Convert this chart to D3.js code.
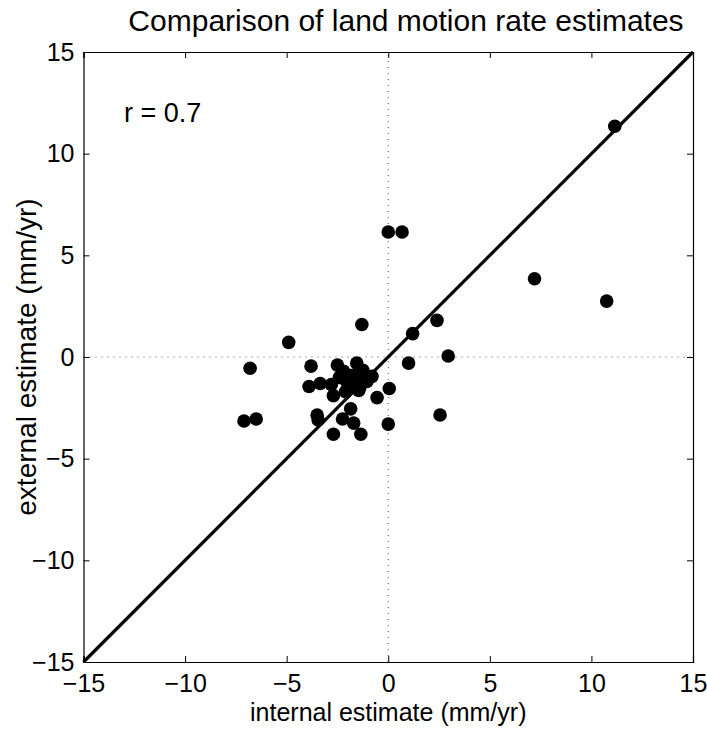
<!DOCTYPE html>
<html>
<head>
<meta charset="utf-8">
<script src="https://cdn.jsdelivr.net/npm/d3@7"></script>
<style>
  body { margin: 0; background: #fff; }
  text { font-family: "Liberation Sans", Arial, sans-serif; fill: #000; }
</style>
</head>
<body>
<div id="chart"></div>
<script>
// internal vs external land motion rate estimates (mm/yr)
let internalRate = [11.15, 7.2, 10.75, 0.0, 0.68, -1.3, -4.9, 2.4, 1.2, 2.95, 1.0, -6.8,
  -7.1, -6.5, 2.55, 0.0, -2.7, -1.35, -1.7, -2.25, -3.45, -3.5, -1.85, -0.55, 0.05, -2.7,
  -3.8, -2.5, -1.55, -2.2, -1.25, -0.8, -3.9, -3.35, -2.8, -2.05, -1.65, -1.9, -1.4,
  -1.05, -2.1, -1.45, -1.75, -1.3, -2.4];
let externalRate = [11.35, 3.85, 2.75, 6.15, 6.15, 1.6, 0.72, 1.8, 1.15, 0.05, -0.3, -0.55,
  -3.15, -3.05, -2.85, -3.3, -3.8, -3.8, -3.25, -3.05, -3.1, -2.85, -2.55, -2.0, -1.55, -1.9,
  -0.45, -0.4, -0.3, -0.7, -0.65, -0.95, -1.45, -1.3, -1.35, -1.2, -1.05, -1.55, -1.5,
  -1.2, -1.7, -1.65, -0.9, -1.0, -1.0];
let ticks = [-15, -10, -5, 0, 5, 10, 15];
let rText = "r = 0.7";

let width = 707, height = 729;
let margin = {top: 52, right: 14, bottom: 67, left: 83.5};
let tickLen = 6;

let svg = d3.select("#chart").append("svg")
  .attr("width", width)
  .attr("height", height);

let x = d3.scaleLinear().domain([-15, 15]).range([margin.left, width - margin.right]);
let y = d3.scaleLinear().domain([-15, 15]).range([height - margin.bottom, margin.top]);

let points = internalRate.map((v, i) => ({x: v, y: externalRate[i]}));

// dotted zero lines
svg.append("line")
  .attr("x1", x(-15)).attr("x2", x(15))
  .attr("y1", y(0)).attr("y2", y(0))
  .attr("stroke", "#555").attr("stroke-width", 1)
  .attr("stroke-dasharray", "1,5");
svg.append("line")
  .attr("x1", x(0)).attr("x2", x(0))
  .attr("y1", y(-15)).attr("y2", y(15))
  .attr("stroke", "#555").attr("stroke-width", 1)
  .attr("stroke-dasharray", "1,5");

// 1:1 line
svg.append("line")
  .attr("x1", x(-15)).attr("y1", y(-15))
  .attr("x2", x(15)).attr("y2", y(15))
  .attr("stroke", "#000").attr("stroke-width", 3.2);

// points
svg.append("g").selectAll("circle")
  .data(points)
  .enter()
  .append("circle")
  .attr("cx", d => x(d.x))
  .attr("cy", d => y(d.y))
  .attr("r", 6.8)
  .attr("fill", "#000");

// axes: ticks inward on all four sides, labels on bottom and left
let fmt = d => d < 0 ? "\u2212" + Math.abs(d) : "" + d;

let axBottom = svg.append("g")
  .attr("transform", "translate(0," + y(-15) + ")")
  .call(d3.axisBottom(x).tickValues(ticks).tickSize(-tickLen).tickPadding(12).tickFormat(fmt));
let axTop = svg.append("g")
  .attr("transform", "translate(0," + y(15) + ")")
  .call(d3.axisTop(x).tickValues(ticks).tickSize(-tickLen).tickFormat(""));
let axLeft = svg.append("g")
  .attr("transform", "translate(" + x(-15) + ",0)")
  .call(d3.axisLeft(y).tickValues(ticks).tickSize(-tickLen).tickPadding(9).tickFormat(fmt));
let axRight = svg.append("g")
  .attr("transform", "translate(" + x(15) + ",0)")
  .call(d3.axisRight(y).tickValues(ticks).tickSize(-tickLen).tickFormat(""));

[axBottom, axTop, axLeft, axRight].forEach(a => {
  a.select(".domain").attr("stroke", "#000").attr("stroke-width", 1.2);
  a.selectAll(".tick line").attr("stroke", "#000").attr("stroke-width", 1);
  a.selectAll("text")
    .style("font-family", "Liberation Sans, Arial, sans-serif")
    .style("font-size", "25px")
    .attr("fill", "#000");
});
axBottom.selectAll(".tick text").attr("dy", "0.71em");

// r annotation
svg.append("text")
  .attr("x", 124)
  .attr("y", 122)
  .attr("font-size", "27px")
  .text(rText);

// title
svg.append("text")
  .attr("x", 406)
  .attr("y", 31)
  .attr("text-anchor", "middle")
  .attr("font-size", "30px")
  .text("Comparison of land motion rate estimates");

// axis labels
svg.append("text")
  .attr("x", x(0))
  .attr("y", 721)
  .attr("text-anchor", "middle")
  .attr("font-size", "25px")
  .text("internal estimate (mm/yr)");

svg.append("text")
  .attr("transform", "translate(36," + y(0) + ") rotate(-90)")
  .attr("text-anchor", "middle")
  .attr("font-size", "28px")
  .text("external estimate (mm/yr)");
</script>
</body>
</html>
